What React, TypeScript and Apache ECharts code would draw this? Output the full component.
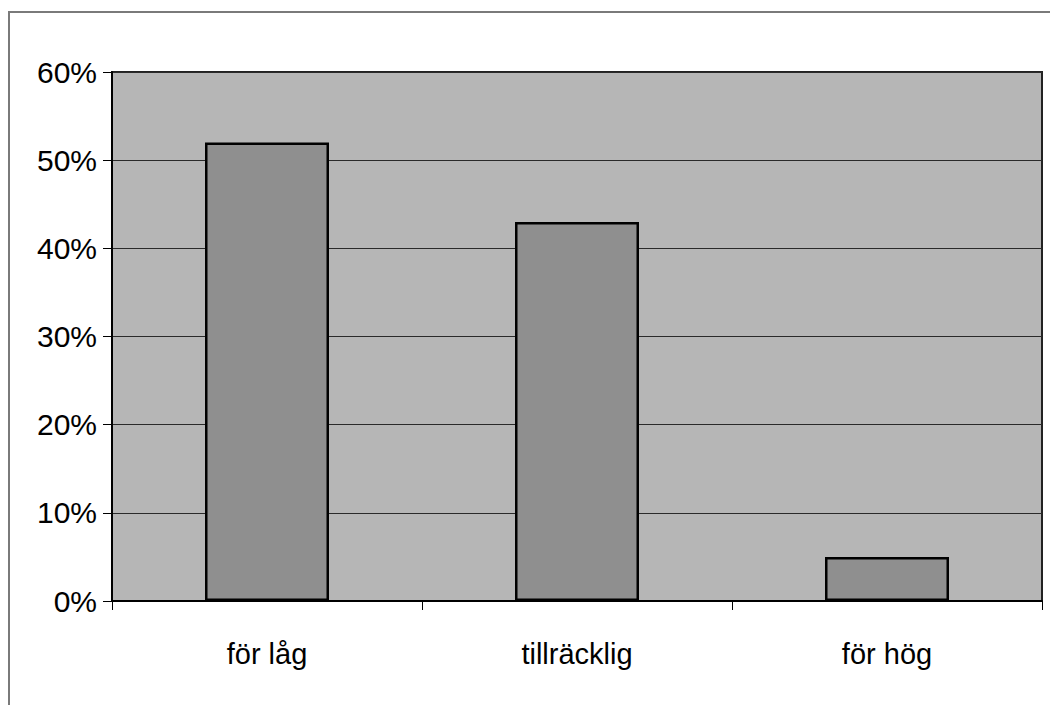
import React, { useEffect, useRef } from "react";
import * as echarts from "echarts";

const categories = ["för låg", "tillräcklig", "för hög"];
const values = [52, 43, 5];
const yTicks = [0, 10, 20, 30, 40, 50, 60];

export default function App() {
  const ref = useRef<HTMLDivElement>(null);
  useEffect(() => {
    const chart = echarts.init(ref.current!, null, { renderer: "svg" });
    chart.setOption({
      animation: false,
      backgroundColor: "#ffffff",
      textStyle: { fontFamily: "'Liberation Sans', Arial, sans-serif" },
      graphic: [
        {
          type: "rect",
          shape: { x: 9, y: 12, width: 1100, height: 800 },
          style: { fill: "none", stroke: "#7a7a7a", lineWidth: 2 },
          silent: true,
        },
      ],
      grid: {
        left: 112,
        top: 72,
        right: 8,
        bottom: 104,
        show: true,
        backgroundColor: "#b6b6b6",
        borderColor: "#222",
        borderWidth: 2,
      },
      xAxis: {
        type: "category",
        data: categories,
        axisLine: { lineStyle: { color: "#000", width: 2 } },
        axisTick: { show: true, length: 9, lineStyle: { color: "#000", width: 1 } },
        axisLabel: { color: "#000", fontSize: 29, margin: 38 },
      },
      yAxis: {
        type: "value",
        min: yTicks[0],
        max: yTicks[yTicks.length - 1],
        interval: 10,
        axisLine: { show: true, lineStyle: { color: "#000", width: 2 } },
        axisTick: { show: true, length: 9, lineStyle: { color: "#000", width: 1 } },
        axisLabel: { color: "#000", fontSize: 30, margin: 15, formatter: "{value}%" },
        splitLine: { show: true, lineStyle: { color: "#2a2a2a", width: 1 } },
      },
      series: [
        {
          type: "bar",
          data: values,
          barWidth: "40%",
          itemStyle: { color: "#8f8f8f", borderColor: "#000", borderWidth: 2.5 },
        },
      ],
    });
    return () => chart.dispose();
  }, []);
  return (
    <div
      ref={ref}
      style={{ position: "fixed", left: 0, top: 0, width: 1050, height: 705 }}
    />
  );
}
